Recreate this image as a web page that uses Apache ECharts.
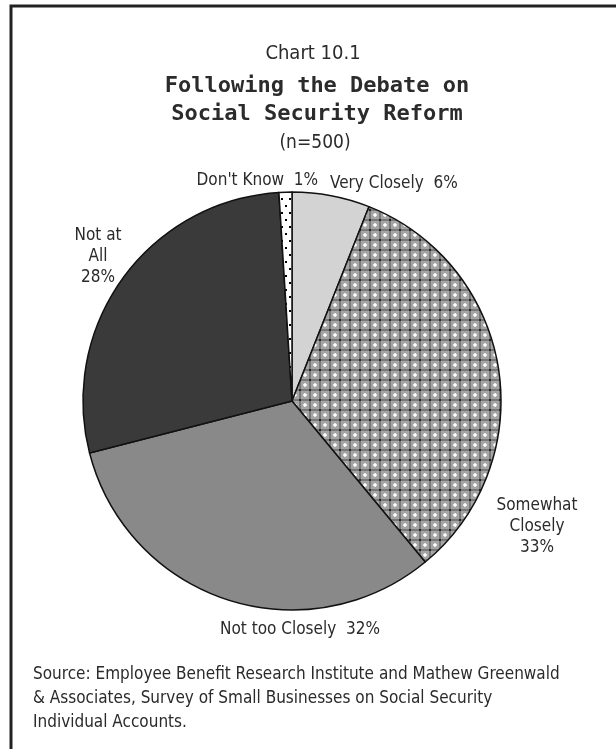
<!DOCTYPE html>
<html>
<head>
<meta charset="utf-8">
<script src="https://cdn.jsdelivr.net/npm/echarts@6/dist/echarts.min.js"></script>
<style>
  html, body { margin: 0; padding: 0; background: #fff; }
  #chart { width: 616px; height: 749px; }
</style>
</head>
<body>
<div id="chart"></div>
<script>
// Survey responses, clockwise from 12 o'clock
const categories = ['Very Closely', 'Somewhat Closely', 'Not too Closely', 'Not at All', "Don't Know"];
const shares = [6, 33, 32, 28, 1];
const labelTexts = ['Very Closely  ', 'Somewhat\nClosely\n', 'Not too Closely  ', 'Not at\nAll\n', "Don't Know  "];

// Label anchors: [x, y, align]
const labelAnchors = [
  [330, 184, 'left'],
  [537, 527, 'center'],
  [300, 630, 'center'],
  [98, 257, 'center'],
  [318, 181, 'right']
];

const NARROW = '"DejaVu Sans Condensed", "Liberation Sans Narrow", sans-serif';
const TEXT = '#2b2b2b';

// Grey cross-hatch tile
function hatchTile() {
  const n = 10, h = n / 2 - 0.5;
  const c = document.createElement('canvas');
  c.width = n; c.height = n;
  const g = c.getContext('2d');
  for (let y = 0; y < n; y++) {
    for (let x = 0; x < n; x++) {
      const ax = Math.abs(x - h), ay = Math.abs(y - h);
      const dx = Math.min(ax, n - ax), dy = Math.min(ay, n - ay);
      let v;
      if (dx < 1 && dy < 1) v = 255;
      else if (dx + dy < 2.5) v = 230;
      else if (dx > 3.6 && dy > 3.6) v = 40;
      else if (dx > 3.6 || dy > 3.6) v = 120;
      else v = 165;
      g.fillStyle = 'rgb(' + v + ',' + v + ',' + v + ')';
      g.fillRect(x, y, 1, 1);
    }
  }
  return c;
}

// White tile with staggered black dots
function dotTile() {
  const c = document.createElement('canvas');
  c.width = 8; c.height = 14;
  const g = c.getContext('2d');
  g.fillStyle = '#ffffff';
  g.fillRect(0, 0, 8, 14);
  g.fillStyle = '#000000';
  g.fillRect(1, 2, 2, 2);
  g.fillRect(5, 9, 2, 2);
  return c;
}

const fills = [
  '#d3d3d3',
  { image: hatchTile(), repeat: 'repeat' },
  '#898989',
  '#3a3a3a',
  { image: dotTile(), repeat: 'repeat' }
];

const chart = echarts.init(document.getElementById('chart'), null, { renderer: 'canvas' });

chart.setOption({
  backgroundColor: '#ffffff',
  animation: false,
  title: [
    {
      text: 'Chart 10.1',
      left: 308, top: 39, textAlign: 'center',
      textStyle: { fontFamily: NARROW, fontSize: 20, fontWeight: 'normal', color: TEXT }
    },
    {
      text: 'Following the Debate on\nSocial Security Reform',
      left: 312, top: 67, textAlign: 'center',
      textStyle: { fontFamily: '"DejaVu Sans Mono", monospace', fontSize: 22, fontWeight: 'bold', color: TEXT, lineHeight: 28 }
    },
    {
      text: '(n=500)',
      left: 310, top: 129, textAlign: 'center',
      textStyle: { fontFamily: NARROW, fontSize: 19, fontWeight: 'normal', color: TEXT }
    },
    {
      text: 'Source: Employee Benefit Research Institute and Mathew Greenwald\n& Associates, Survey of Small Businesses on Social Security\nIndividual Accounts.',
      left: 28, top: 658,
      textStyle: { fontFamily: NARROW, fontSize: 17, fontWeight: 'normal', color: TEXT, lineHeight: 24 }
    }
  ],
  graphic: [
    {
      type: 'polyline',
      shape: { points: [[11, 749], [11, 6], [616, 6]] },
      style: { stroke: '#222', lineWidth: 3, fill: null },
      silent: true
    }
  ],
  series: [
    {
      type: 'pie',
      center: [292, 401],
      radius: 209,
      startAngle: 90,
      clockwise: true,
      silent: true,
      data: categories.map((name, i) => ({
        name: name,
        value: shares[i],
        itemStyle: { color: fills[i] }
      })),
      itemStyle: { borderColor: '#111', borderWidth: 1.5 },
      label: {
        show: true,
        position: 'outside',
        overflow: 'none',
        formatter: p => labelTexts[p.dataIndex] + p.value + '%',
        fontFamily: NARROW,
        fontSize: 17,
        lineHeight: 21,
        color: TEXT
      },
      labelLine: { show: false },
      labelLayout: function (params) {
        const a = labelAnchors[params.dataIndex];
        return { x: a[0], y: a[1], align: a[2], verticalAlign: 'middle', hideOverlap: false };
      }
    }
  ]
});
</script>
</body>
</html>
